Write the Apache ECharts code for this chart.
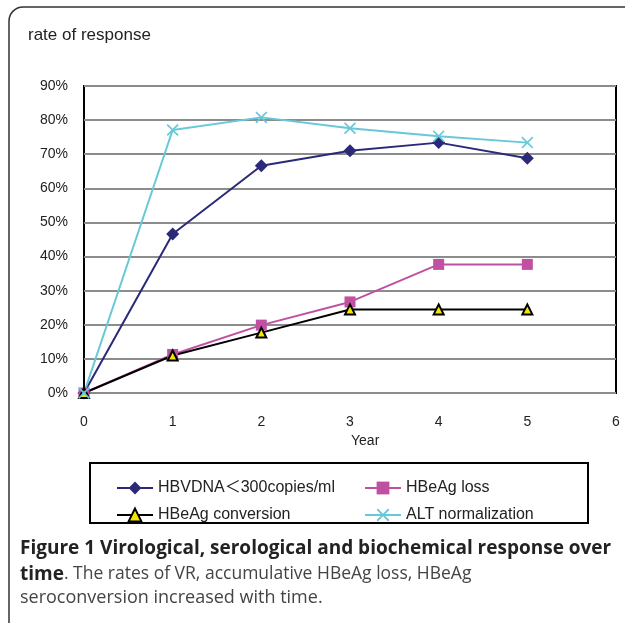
<!DOCTYPE html>
<html lang="en">
<head>
    <meta charset="utf-8"/>
    <title>rate of response</title>
    <script src="https://cdn.jsdelivr.net/npm/echarts@6/dist/echarts.min.js"></script>
    <style>
        html, body { margin: 0; padding: 0; background: #fff; }
        #chart { width: 625px; height: 623px; }
    </style>
</head>
<body>
<div id="chart"></div>
<script>
    // 数据
    var years = [0, 1, 2, 3, 4, 5];
    var hbvdna = [0, 46.6, 66.6, 71.0, 73.4, 68.8];
    var hbeagLoss = [0, 11.3, 19.9, 26.7, 37.7, 37.7];
    var hbeagConv = [0, 11.0, 17.7, 24.5, 24.5, 24.5];
    var altNorm = [0, 77.1, 80.8, 77.6, 75.3, 73.4];
    var seriesNames = ['HBVDNA\uFF1C300copies/ml', 'HBeAg loss', 'HBeAg conversion', 'ALT normalization'];

    var pairs = function (vals) {
        var out = [];
        for (var i = 0; i < years.length; i++) {
            out.push([years[i], vals[i]]);
        }
        return out;
    };

    var crossPath = 'path://M0,1L1,0L5,4L9,0L10,1L6,5L10,9L9,10L5,6L1,10L0,9L4,5Z';
    var font = '"Liberation Sans", Arial, sans-serif';
    var capFont = '"Open Sans", "Noto Sans", sans-serif';

    var chart = echarts.init(document.getElementById('chart'));
    var option = {
        animation: false,
        backgroundColor: '#fff',
        title: {
            text: 'rate of response',
            left: 23,
            top: 22,
            textStyle: { fontFamily: font, fontSize: 17, fontWeight: 'normal', color: '#222' }
        },
        grid: {
            left: 84, top: 86, right: 9, bottom: 230,
            show: true, borderColor: '#000', borderWidth: 2, containLabel: false
        },
        xAxis: {
            type: 'value', min: 0, max: 6, interval: 1,
            axisLine: { show: false }, axisTick: { show: false },
            splitLine: { show: false },
            axisLabel: { margin: 22, fontFamily: font, fontSize: 14, color: '#222' }
        },
        yAxis: {
            type: 'value', min: 0, max: 90, interval: 10,
            axisLine: { show: false }, axisTick: { show: false },
            splitLine: { lineStyle: { color: '#8c8c8c', width: 2 } },
            axisLabel: { margin: 16, formatter: '{value}%', fontFamily: font, fontSize: 14, color: '#222' }
        },
        legend: [{
            orient: 'vertical', left: 111, top: 475, itemGap: 11,
            itemWidth: 36, itemHeight: 16,
            data: [seriesNames[0], seriesNames[2]],
            textStyle: { fontFamily: font + ', "Noto Sans CJK SC"', fontSize: 16, color: '#222' }
        }, {
            orient: 'vertical', left: 359, top: 475, itemGap: 11,
            itemWidth: 36, itemHeight: 16,
            data: [seriesNames[1], seriesNames[3]],
            textStyle: { fontFamily: font, fontSize: 16, color: '#222' }
        }],
        series: [{
            name: seriesNames[0], type: 'line', data: pairs(hbvdna),
            symbol: 'diamond', symbolSize: 13,
            lineStyle: { color: '#2a2a78', width: 2 },
            itemStyle: { color: '#2a2a78' }
        }, {
            name: seriesNames[1], type: 'line', data: pairs(hbeagLoss),
            symbol: 'rect', symbolSize: 11,
            lineStyle: { color: '#c050a2', width: 2 },
            itemStyle: { color: '#c050a2' }
        }, {
            name: seriesNames[2], type: 'line', data: pairs(hbeagConv),
            symbol: 'triangle', symbolSize: 10,
            lineStyle: { color: '#000', width: 2 },
            itemStyle: { color: '#f2e600', borderColor: '#000', borderWidth: 2 }
        }, {
            name: seriesNames[3], type: 'line', data: pairs(altNorm),
            symbol: crossPath, symbolSize: 12,
            lineStyle: { color: '#66c8d8', width: 2 },
            itemStyle: { color: '#66c8d8' }
        }],
        graphic: [{
            type: 'rect', silent: true, z: 0,
            shape: { x: 9, y: 7, width: 700, height: 700, r: 14 },
            style: { fill: 'none', stroke: '#333', lineWidth: 1.5 }
        }, {
            type: 'rect', silent: true,
            shape: { x: 90, y: 463, width: 498, height: 60 },
            style: { fill: 'none', stroke: '#000', lineWidth: 2 }
        }, {
            type: 'text', left: 351, top: 434,
            style: { text: 'Year', fontFamily: font, fontSize: 14, fill: '#222' }
        }, {
            type: 'text', left: 20, top: 539,
            style: {
                text: 'Figure 1 Virological, serological and biochemical response over',
                fontFamily: capFont, fontSize: 19, fontWeight: 'bold', fill: '#222'
            }
        }, {
            type: 'text', left: 20, top: 565,
            style: {
                text: '{b|time}. The rates of VR, accumulative HBeAg loss, HBeAg',
                fontFamily: capFont, fontSize: 17.5, fill: '#444',
                rich: { b: { fontFamily: capFont, fontSize: 19, fontWeight: 'bold', fill: '#222' } }
            }
        }, {
            type: 'text', left: 20, top: 589,
            style: {
                text: 'seroconversion increased with time.',
                fontFamily: capFont, fontSize: 18, fill: '#444'
            }
        }]
    };
    chart.setOption(option);
</script>
</body>
</html>
